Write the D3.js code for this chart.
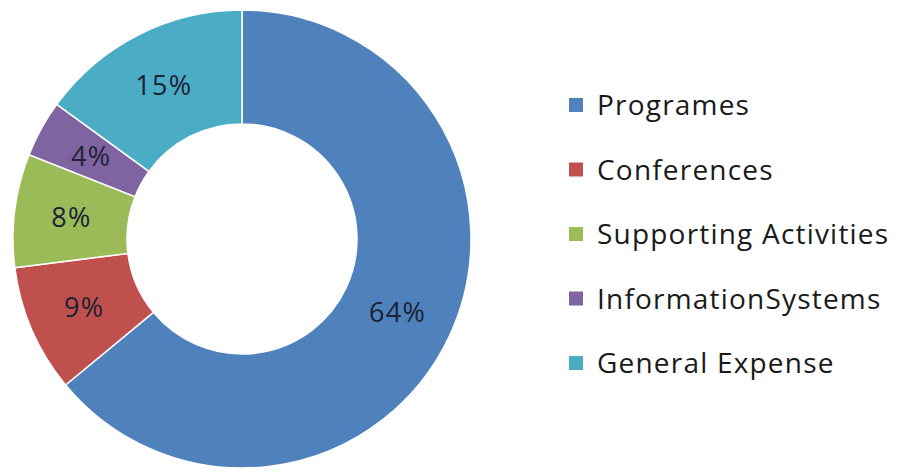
<!DOCTYPE html>
<html lang="en">
<head>
  <meta charset="UTF-8">
  <title>Expense Breakdown</title>
  <script src="https://d3js.org/d3.v7.min.js"></script>
  <style>
    body {
      margin: 0;
      padding: 0;
      background: #fff;
      font-family: "Open Sans", Lato, sans-serif;
    }
  </style>
</head>
<body>
  <div id="chart"></div>
  <script>
    // data
    const categories = ["Programes", "Conferences", "Supporting Activities", "InformationSystems", "General Expense"];
    const shares = [64, 9, 8, 4, 15];
    const colors = ["#4F81BD", "#C0504D", "#9BBB59", "#8064A2", "#4BACC6"];

    const width = 897;
    const height = 473;
    const cx = 242, cy = 239;
    const outerR = 229, innerR = 115;

    const svg = d3.select("#chart").append("svg")
      .attr("width", width)
      .attr("height", height);

    const data = categories.map((c, i) => ({ name: c, value: shares[i], color: colors[i] }));

    const pie = d3.pie()
      .value(d => d.value)
      .sort(null);

    const arc = d3.arc()
      .innerRadius(innerR)
      .outerRadius(outerR);

    const g = svg.append("g")
      .attr("transform", `translate(${cx},${cy})`);

    const slices = g.selectAll("g.slice")
      .data(pie(data))
      .join("g")
      .attr("class", "slice");

    slices.append("path")
      .attr("d", arc)
      .attr("fill", d => d.data.color)
      .attr("stroke", "#fff")
      .attr("stroke-width", 1.5);

    slices.append("text")
      .attr("transform", d => `translate(${arc.centroid(d)})`)
      .attr("text-anchor", "middle")
      .attr("dy", "0.36em")
      .style("font-size", "27px")
      .style("letter-spacing", "1.3px")
      .style("fill", "#1c2233")
      .text(d => d.data.value + "%");

    // legend
    const legend = svg.append("g")
      .attr("transform", "translate(569,105)");

    const rowH = 64.5;
    const item = legend.selectAll("g.item")
      .data(data)
      .join("g")
      .attr("class", "item")
      .attr("transform", (d, i) => `translate(0,${i * rowH})`);

    item.append("rect")
      .attr("x", 0)
      .attr("y", -7)
      .attr("width", 14)
      .attr("height", 14)
      .attr("fill", d => d.color);

    item.append("text")
      .attr("x", 28)
      .attr("dy", "0.36em")
      .style("font-size", "28px")
      .style("letter-spacing", "1.2px")
      .style("fill", "#1a1a1a")
      .text(d => d.name);
  </script>
</body>
</html>
